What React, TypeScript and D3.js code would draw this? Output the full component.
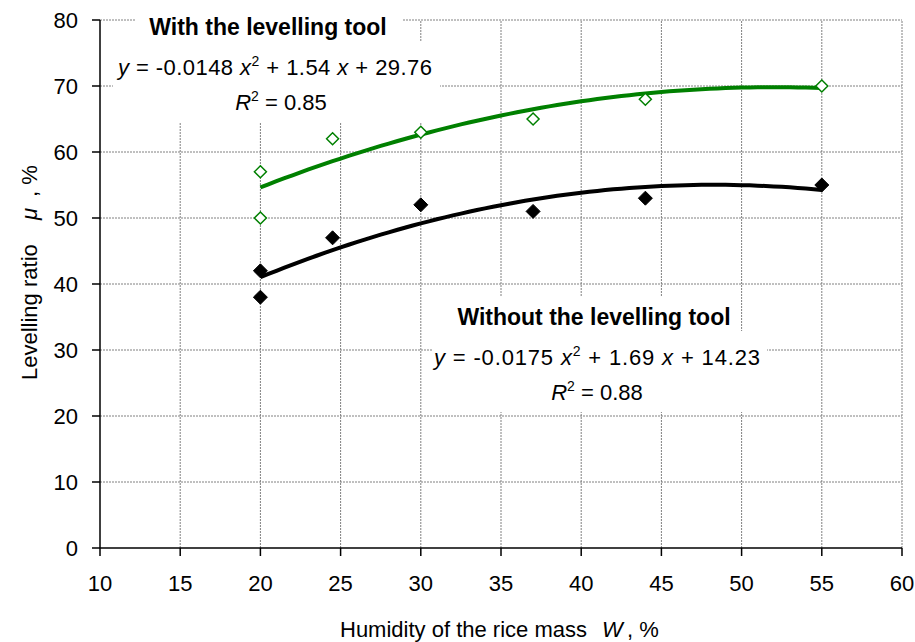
import React from "react";
import * as d3 from "d3";

// ---- data ----
const humidity = [20, 20, 24.5, 30, 37, 44, 55];
const withTool = [57, 50, 62, 63, 65, 68, 70];
const withoutTool = [42, 38, 47, 52, 51, 53, 55];

// trend-line coefficients as printed on the chart: a x^2 + b x + c
const withCoef = [-0.0148, 1.54, 29.76];
const withoutCoef = [-0.0175, 1.69, 14.23];
const withR2 = "0.85";
const withoutR2 = "0.88";
const trendRange = [20, 55];

const xTicks = [10, 15, 20, 25, 30, 35, 40, 45, 50, 55, 60];
const yTicks = [0, 10, 20, 30, 40, 50, 60, 70, 80];

const W = 915;
const H = 642;
const FONT = "'Liberation Sans', Arial, sans-serif";

const x = d3.scaleLinear().domain([10, 60]).range([100, 902]);
const y = d3.scaleLinear().domain([0, 80]).range([548, 20]);

function trend(coef: number[]): [number, number][] {
  const xs = d3.range(trendRange[0], trendRange[1] + 0.001, 0.5);
  return xs.map((v) => [v, coef[0] * v * v + coef[1] * v + coef[2]]);
}

const line = d3
  .line<[number, number]>()
  .x((d) => x(d[0]))
  .y((d) => y(d[1]));

function Diamond({ cx, cy, r, fill, stroke, sw }: any) {
  const p = `M${cx},${cy - r}L${cx + r},${cy}L${cx},${cy + r}L${cx - r},${cy}Z`;
  return <path d={p} fill={fill} stroke={stroke} strokeWidth={sw} />;
}

function fmt(v: number) {
  return String(Math.abs(v));
}

function Equation({ cx, tcx, rcx, base, coef, r2, title, titleBase, eqLen }: any) {
  const sign = (v: number) => (v < 0 ? "-" : "");
  return (
    <g fontFamily={FONT} fill="#000">
      <text x={tcx} y={titleBase} textAnchor="middle" fontSize={23} fontWeight="bold">
        {title}
      </text>
      <text
        x={cx}
        y={base}
        textAnchor="middle"
        fontSize={22}
        xmlSpace="preserve"
        textLength={eqLen}
        lengthAdjust="spacing"
      >
        <tspan fontStyle="italic">y</tspan>
        <tspan>{` = ${sign(coef[0])}${fmt(coef[0])} `}</tspan>
        <tspan fontStyle="italic">x</tspan>
        <tspan fontSize={14} dy={-9}>2</tspan>
        <tspan dy={9}>{` + ${fmt(coef[1])} `}</tspan>
        <tspan fontStyle="italic">x</tspan>
        <tspan>{` + ${fmt(coef[2])}`}</tspan>
      </text>
      <text x={rcx} y={base + 35} textAnchor="middle" fontSize={22} xmlSpace="preserve">
        <tspan fontStyle="italic">R</tspan>
        <tspan fontSize={14} dy={-9}>2</tspan>
        <tspan dy={9}>{` = ${r2}`}</tspan>
      </text>
    </g>
  );
}

export default function App() {
  const grid = "#808080";
  return (
    <div style={{ position: "absolute", left: 0, top: 0 }}>
      <svg width={W} height={H} style={{ display: "block", background: "#fff" }}>
        {/* grid */}
        <g stroke={grid} strokeWidth={1} strokeDasharray="2,1">
          {xTicks.slice(1).map((t) => (
            <line key={"gx" + t} x1={x(t)} x2={x(t)} y1={y(0)} y2={y(80)} />
          ))}
          {yTicks.slice(1).map((t) => (
            <line key={"gy" + t} x1={x(10)} x2={x(60)} y1={y(t)} y2={y(t)} />
          ))}
        </g>

        {/* label background boxes */}
        <g fill="#fff">
          <rect x={135} y={4} width={267} height={37} />
          <rect x={113} y={42} width={327} height={80} />
          <rect x={445} y={296} width={293} height={35} />
          <rect x={432} y={331} width={335} height={81} />
        </g>

        {/* axes */}
        <g stroke="#000" strokeWidth={1.5}>
          <line x1={x(10)} x2={x(10)} y1={y(0)} y2={y(80)} />
          <line x1={x(10)} x2={x(60)} y1={y(0)} y2={y(0)} />
          {yTicks.map((t) => (
            <line key={"ty" + t} x1={x(10) - 8} x2={x(10)} y1={y(t)} y2={y(t)} />
          ))}
          {xTicks.map((t) => (
            <line key={"tx" + t} x1={x(t)} x2={x(t)} y1={y(0)} y2={y(0) + 8} />
          ))}
        </g>

        {/* tick labels */}
        <g fontFamily={FONT} fontSize={22} fill="#000">
          {yTicks.map((t) => (
            <text key={"ly" + t} x={78} y={y(t)} dy="0.36em" textAnchor="end">
              {t}
            </text>
          ))}
          {xTicks.map((t) => (
            <text key={"lx" + t} x={x(t)} y={591} textAnchor="middle">
              {t}
            </text>
          ))}
        </g>

        {/* axis titles */}
        <text fontFamily={FONT} fontSize={22} y={637} xmlSpace="preserve">
          <tspan x={340}>Humidity of the rice mass</tspan>
          <tspan x={602} fontStyle="italic">W</tspan>
          <tspan x={627}>, %</tspan>
        </text>
        <text transform="translate(37,380) rotate(-90)" fontFamily={FONT} fontSize={22} xmlSpace="preserve">
          <tspan x={0}>Levelling ratio</tspan>
          <tspan x={160} fontStyle="italic">μ</tspan>
          <tspan x={183}>, %</tspan>
        </text>

        {/* trend lines */}
        <path d={line(trend(withCoef)) || ""} fill="none" stroke="#008000" strokeWidth={4} />
        <path d={line(trend(withoutCoef)) || ""} fill="none" stroke="#000" strokeWidth={4} />

        {/* points */}
        {humidity.map((h, i) => (
          <Diamond key={"w" + i} cx={x(h)} cy={y(withTool[i])} r={6} fill="#fff" stroke="#008000" sw={1.5} />
        ))}
        {humidity.map((h, i) => (
          <Diamond key={"n" + i} cx={x(h)} cy={y(withoutTool[i])} r={7} fill="#000" stroke="#000" sw={1} />
        ))}

        {/* equations */}
        <Equation
          cx={275}
          tcx={268}
          rcx={281}
          base={75}
          titleBase={35}
          eqLen={314}
          coef={withCoef}
          r2={withR2}
          title="With the levelling tool"
        />
        <Equation
          cx={597}
          tcx={594}
          rcx={597}
          base={365}
          titleBase={325}
          eqLen={326}
          coef={withoutCoef}
          r2={withoutR2}
          title="Without the levelling tool"
        />
      </svg>
    </div>
  );
}
